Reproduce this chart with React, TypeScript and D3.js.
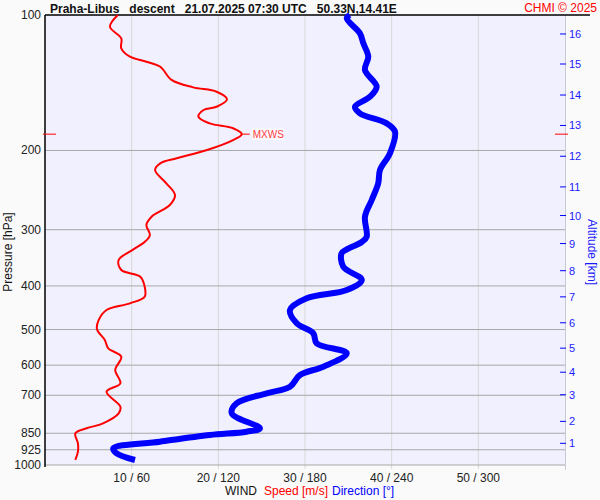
import React from "react";
import * as d3 from "d3";

// ---- data ----
const speedPressure = [100, 106.2, 112.7, 118.6, 123.8, 127.0, 130.3, 139.4, 144.8, 148.1, 153.9, 159.9, 162.6, 168.3, 174.1, 178.5, 184, 189.6, 199.5, 208.2, 213.6, 221.1, 236.6, 251.2, 264.4, 280.7, 292.9, 308.3, 319.5, 331.7, 350.3, 368.7, 381.5, 401.5, 422.7, 437.3, 452.4, 476.1, 499.5, 527.5, 550.5, 574.5, 615.1, 658.3, 687.3, 742.2, 767.7, 807.9, 828.8, 850.3, 894.8, 934.3, 974.7];
const speedValues = [8.4, 7.5, 8.8, 8.8, 9.8, 11.7, 13.3, 14.6, 17.1, 19.8, 21.0, 19.8, 18.3, 17.7, 19.0, 21.7, 22.7, 21.7, 18.7, 15.2, 13.3, 12.7, 14.0, 15.0, 14.4, 12.3, 11.7, 12.1, 11.5, 10.2, 8.5, 8.8, 11.0, 11.5, 11.5, 9.8, 7.1, 6.2, 6.0, 6.9, 7.3, 8.8, 8.1, 8.7, 7.1, 8.7, 8.5, 6.7, 4.8, 3.5, 3.8, 3.8, 3.5];

const dirPressure = [100, 101.7, 109.8, 115.6, 123.8, 132.5, 144.3, 151.9, 159.9, 165.4, 174.1, 181.6, 202.9, 221.1, 236.6, 257.7, 280.7, 311.0, 319.5, 331.7, 338.5, 362.5, 388.0, 408.3, 426.1, 452.4, 484.3, 509.6, 536.5, 564.6, 604.7, 631.0, 669.9, 692.9, 729.2, 767.7, 828.8, 843.3, 857.7, 887.5, 918.3, 941.9, 974.7];
const dirValues = [211, 208.9, 218, 220.4, 223.8, 221.5, 229.6, 225, 214.6, 218, 236.6, 242.3, 238.8, 231.9, 230.7, 226.2, 221.5, 222.7, 219.3, 208.9, 205.3, 206.5, 219.3, 208.9, 181.2, 169.6, 174.3, 185.7, 188.1, 208.9, 192.7, 176.5, 169.6, 153.5, 132.7, 129.3, 148.8, 139.6, 114.2, 79.6, 47.3, 49.6, 62.3];

const pressureTicks = [100, 200, 300, 400, 500, 600, 700, 850, 925, 1000];
const speedTicks = [10, 20, 30, 40, 50];
const dirTicks = [60, 120, 180, 240, 300];
const altitudeKm = [1, 2, 3, 4, 5, 6, 7, 8, 9, 10, 11, 12, 13, 14, 15, 16];
const altitudePressure = [895, 800, 698, 622, 550, 483, 423, 370, 322, 279, 241, 206, 176, 150.6, 128.5, 110.2];
const maxWind = { pressure: 184, speed: 22.7 };

const title = "Praha-Libus   descent   21.07.2025 07:30 UTC   50.33N,14.41E";

const FONT = "'Liberation Sans', Arial, sans-serif";

export default function App() {
  const left = 45, right = 565, top = 15, bottom = 465;
  const y = d3.scaleLog().domain([100, 1000]).range([top, bottom]);
  const xs = d3.scaleLinear().domain([0, 60]).range([left, right]);
  const xd = d3.scaleLinear().domain([0, 360]).range([left, right]);

  const speedLine = d3
    .line<number>()
    .x((_, i) => xs(speedValues[i]))
    .y((p) => y(p))
    .curve(d3.curveCatmullRom.alpha(0.5));
  const dirLine = d3
    .line<number>()
    .x((_, i) => xd(dirValues[i]))
    .y((p) => y(p))
    .curve(d3.curveCatmullRom.alpha(0.5));

  const myY = y(maxWind.pressure);
  const mx = xs(maxWind.speed);

  return (
    <svg
      width={600}
      height={500}
      style={{ position: "absolute", left: 0, top: 0, background: "#fafafa" }}
      fontFamily={FONT}
    >
      <rect x={0} y={0} width={600} height={500} fill="#fafafa" />
      <rect x={left} y={top} width={right - left} height={bottom - top} fill="#f0f0fe" />

      {/* vertical grid */}
      {speedTicks.map((t, i) => (
        <g key={"v" + t}>
          <line x1={xs(t)} x2={xs(t)} y1={top} y2={bottom + 4} stroke="#d8d8d8" strokeWidth={1} />
          <text x={xs(t)} y={482} textAnchor="middle" fontSize={12} fill="#222">
            {t} / {dirTicks[i]}
          </text>
        </g>
      ))}

      {/* horizontal grid */}
      {pressureTicks.map((p) => (
        <g key={"h" + p}>
          {p !== 100 && (
            <line x1={left} x2={right} y1={y(p)} y2={y(p)} stroke="#a8a8a8" strokeWidth={1} />
          )}
          <text x={41} y={y(p) + 4} textAnchor="end" fontSize={12} fill="#222">
            {p}
          </text>
        </g>
      ))}

      {/* axes frame */}
      <line x1={right + 0.5} x2={right + 0.5} y1={top} y2={bottom + 5} stroke="#c8c8d8" strokeWidth={1} />
      <line x1={left} x2={left} y1={top} y2={bottom + 2} stroke="#000" strokeWidth={1.5} />
      <line x1={left} x2={590} y1={top} y2={top} stroke="#000" strokeWidth={1.5} />

      {/* altitude axis */}
      {altitudeKm.map((a, i) => (
        <g key={"a" + a}>
          <line x1={right - 5} x2={right + 1} y1={y(altitudePressure[i])} y2={y(altitudePressure[i])} stroke="#0000ff" strokeWidth={1} />
          <text x={569} y={y(altitudePressure[i]) + 4} fontSize={11} fill="#1a1aff">
            {a}
          </text>
        </g>
      ))}
      <text
        transform="translate(588,252) rotate(90)"
        textAnchor="middle"
        fontSize={12}
        fill="#1a1aff"
      >
        Altitude [km]
      </text>
      <text
        transform="translate(12,252) rotate(-90)"
        textAnchor="middle"
        fontSize={12}
        fill="#111"
      >
        Pressure [hPa]
      </text>

      {/* max wind markers */}
      <line x1={43} x2={56} y1={myY} y2={myY} stroke="#ff0000" strokeWidth={1} />
      <line x1={555} x2={568} y1={myY} y2={myY} stroke="#ff0000" strokeWidth={1} />
      <line x1={mx} x2={mx + 8} y1={myY} y2={myY} stroke="#ff0000" strokeWidth={1} />
      <rect x={mx + 10} y={myY - 6} width={32} height={12} fill="#ffffff" opacity={0.6} />
      <text x={mx + 11} y={myY + 4} fontSize={10} fill="#ff3b3b">
        MXWS
      </text>

      {/* profiles */}
      <path d={dirLine(dirPressure) || ""} fill="none" stroke="#0000ff" strokeWidth={6} strokeLinejoin="round" />
      <path d={speedLine(speedPressure) || ""} fill="none" stroke="#ff0000" strokeWidth={2} strokeLinejoin="round" />

      {/* titles */}
      <text x={50} y={13} fontSize={12} fontWeight="bold" fill="#111" style={{ whiteSpace: "pre" }}>
        {title}
      </text>
      <text x={597} y={12} textAnchor="end" fontSize={12} fill="#ff0000">
        CHMI © 2025
      </text>

      {/* bottom legend */}
      <text x={225} y={495} fontSize={12} fill="#111">WIND</text>
      <text x={264} y={495} fontSize={12} fill="#ff0000">Speed [m/s]</text>
      <text x={332} y={495} fontSize={12} fill="#0000ff">Direction [°]</text>
    </svg>
  );
}
